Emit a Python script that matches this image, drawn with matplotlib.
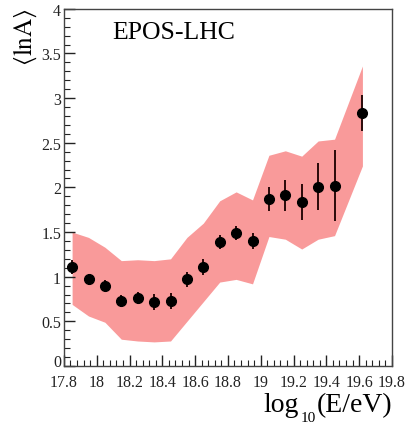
import matplotlib
matplotlib.use('Agg')
import matplotlib.pyplot as plt
from matplotlib.ticker import MultipleLocator

plt.rcParams['font.family'] = ['Liberation Serif', 'DejaVu Serif']
plt.rcParams['mathtext.fontset'] = 'stix'

# data points <lnA> vs log10(E/eV)
logE = [17.85, 17.95, 18.05, 18.15, 18.25, 18.35, 18.45, 18.55, 18.65,
        18.75, 18.85, 18.95, 19.05, 19.15, 19.25, 19.35, 19.45, 19.62]
lnA = [1.11, 0.97, 0.90, 0.73, 0.76, 0.72, 0.73, 0.97, 1.11,
       1.39, 1.49, 1.40, 1.87, 1.91, 1.84, 2.01, 2.02, 2.83]
lnA_err = [0.08, 0.06, 0.06, 0.07, 0.07, 0.09, 0.09, 0.08, 0.09,
           0.08, 0.08, 0.09, 0.13, 0.17, 0.20, 0.26, 0.40, 0.20]

# systematic band
band_low = [0.69, 0.56, 0.49, 0.30, 0.28, 0.27, 0.28, 0.50, 0.72,
            0.94, 0.97, 0.92, 1.45, 1.42, 1.31, 1.42, 1.46, 2.24]
band_high = [1.50, 1.44, 1.33, 1.18, 1.19, 1.18, 1.20, 1.44, 1.60,
             1.85, 1.95, 1.86, 2.36, 2.41, 2.35, 2.52, 2.54, 3.36]

fig = plt.figure(figsize=(4.07, 4.27), dpi=100)
ax = fig.add_axes([0.157, 0.1405, 0.806, 0.8365])

ax.fill_between(logE, band_low, band_high, color='#f99a9a', lw=0)
ax.errorbar(logE, lnA, yerr=lnA_err, fmt='o', color='black', ms=7,
            ecolor='#2a0a0a', elinewidth=1.4, capsize=0)

ax.set_xlim(17.8, 19.8)
ax.set_ylim(0, 4)
ax.xaxis.set_minor_locator(MultipleLocator(0.04))
ax.yaxis.set_minor_locator(MultipleLocator(0.1))
ax.set_xticks([17.8, 18, 18.2, 18.4, 18.6, 18.8, 19, 19.2, 19.4, 19.6, 19.8])
ax.set_xticklabels(['17.8', '18', '18.2', '18.4', '18.6', '18.8', '19',
                    '19.2', '19.4', '19.6', '19.8'])
ax.set_yticks([0, 0.5, 1, 1.5, 2, 2.5, 3, 3.5, 4])
ax.set_yticklabels(['0', '0.5', '1', '1.5', '2', '2.5', '3', '3.5', '4'])
ax.tick_params(which='both', direction='in', top=False, right=False,
               labelsize=11.5, colors='#222222')
ax.tick_params(axis='x', pad=6)
ax.tick_params(axis='y', pad=2)
ax.tick_params(which='major', length=8, width=1)
ax.tick_params(which='minor', length=4, width=0.8)
ax.get_yticklabels()[0].set_va('baseline')
for s in ax.spines.values():
    s.set_color('#444444')
    s.set_linewidth(1)

ax.text(0.335, 0.935, 'EPOS-LHC', transform=ax.transAxes, fontsize=18.5,
        ha='center', va='center')

fig.text(25 / 407, 1 - 8 / 427, r'$\langle\mathrm{lnA}\rangle$', rotation=90,
         ha='center', va='top', fontsize=18)

# x label built from pieces so the subscript sits low like the original
fig.text(299 / 407, 1 - 412 / 427, 'log', ha='right', va='baseline', fontsize=20)
fig.text(316 / 407, 1 - 422 / 427, '10', ha='right', va='baseline', fontsize=11)
fig.text(392 / 407, 1 - 412 / 427, '(E/eV)', ha='right', va='baseline',
         fontsize=20)

fig.savefig('out.png', dpi=100)
